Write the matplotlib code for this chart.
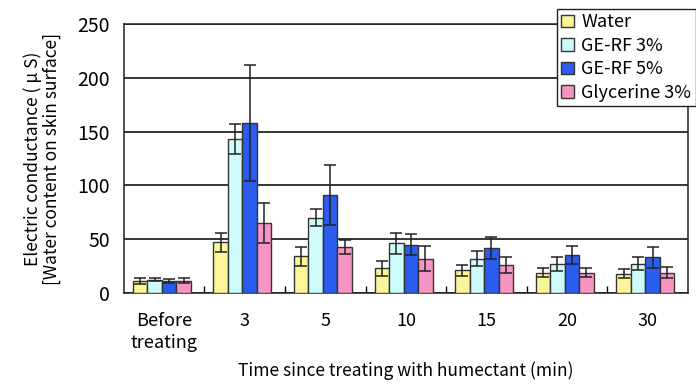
# Electric conductance after treating skin with humectant
import numpy as np
import matplotlib.pyplot as plt
from matplotlib.ticker import FixedLocator

plt.rcParams['font.family'] = ['Noto Sans CJK JP', 'DejaVu Sans']

# Data
groups = ['Before\ntreating', '3', '5', '10', '15', '20', '30']
series = ['Water', 'GE-RF 3%', 'GE-RF 5%', 'Glycerine 3%']
water = [11, 47, 34, 23, 21, 19, 18]
water_err = [2.5, 9, 9, 7, 5, 4.5, 4]
gerf3 = [12.5, 143, 70, 46, 32, 27, 27]
gerf3_err = [1, 14, 8, 9.5, 7, 6.5, 6]
gerf5 = [11, 158, 91, 45, 42, 35, 33]
gerf5_err = [1.7, 54, 28, 10, 10, 8.5, 10]
glyc = [11.5, 65, 42.5, 32, 26, 19, 19]
glyc_err = [2, 18.5, 6.5, 12, 7, 4.5, 5.5]

colors = ['#fbf69a', '#cdfcfb', '#2b5cf0', '#f695c4']
values = [water, gerf3, gerf5, glyc]
errors = [water_err, gerf3_err, gerf5_err, glyc_err]

fig = plt.figure(figsize=(6.96, 3.87), dpi=100)
ax = fig.add_axes([0.178, 0.243, 0.8105, 0.695])

x = np.arange(len(groups))
w = 0.18
for i in range(4):
    pos = x + (i - 1.5) * w - 0.03
    ax.bar(pos, values[i], w, color=colors[i], edgecolor='#333333',
           linewidth=1.0, label=series[i], zorder=3)
    ax.errorbar(pos, values[i], yerr=errors[i], fmt='none', ecolor='#222222',
                elinewidth=1.1, capsize=4, capthick=1.1, zorder=4)

ax.set_xlim(-0.5, len(groups) - 0.5)
ax.set_ylim(0, 250)
ax.set_yticks([0, 50, 100, 150, 200, 250])
ax.yaxis.grid(True, color='black', linewidth=1.1, zorder=1)
ax.set_axisbelow(True)

ax.set_xticks(x)
ax.set_xticklabels(groups, fontsize=13, linespacing=1.25)
ax.xaxis.set_minor_locator(FixedLocator(x[:-1] + 0.5))
ax.tick_params(axis='x', which='major', length=0, pad=14)
ax.tick_params(axis='x', which='minor', direction='in', length=5, width=1)
ax.tick_params(axis='y', length=0, labelsize=14, pad=10)

for s in ax.spines.values():
    s.set_color('#222222')
    s.set_linewidth(1.1)

ax.set_xlabel('Time since treating with humectant (min)', fontsize=12.5, labelpad=7)
ax.set_ylabel('Electric conductance ( μ S)\n[Water content on skin surface]',
              fontsize=12.5, labelpad=12, linespacing=1.05)

leg = ax.legend(loc='upper left', bbox_to_anchor=(0.800, 0.977),
                bbox_transform=fig.transFigure, fontsize=13, frameon=True,
                fancybox=False, edgecolor='#222222', framealpha=1,
                handlelength=0.7, handleheight=0.7, handletextpad=0.4,
                labelspacing=0.3, borderpad=0.25, borderaxespad=0)
leg.get_frame().set_linewidth(1.0)
leg.set_zorder(10)

plt.savefig('out.png', dpi=100)
